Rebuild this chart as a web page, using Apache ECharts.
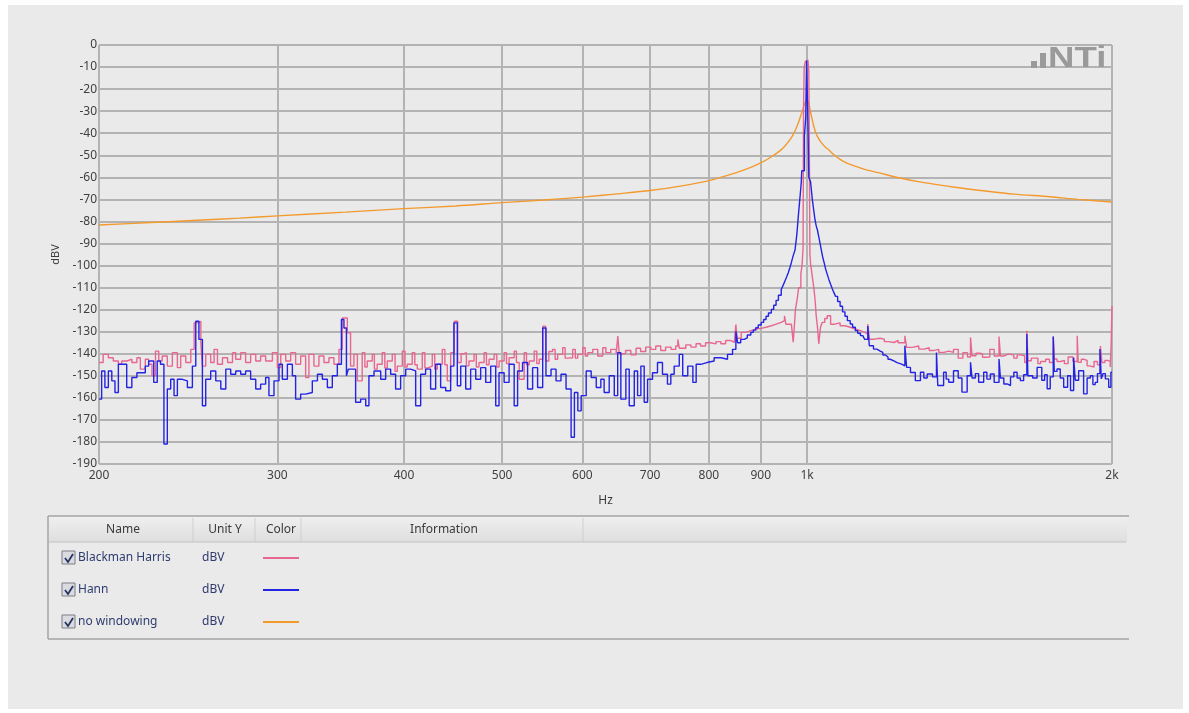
<!DOCTYPE html>
<html><head><meta charset="utf-8">
<script src="https://cdn.jsdelivr.net/npm/echarts@6/dist/echarts.min.js"></script>
<style>html,body{margin:0;padding:0;background:#fff}#c{width:1189px;height:713px}</style>
</head><body><div id="c"></div>
<script>
// ---- tick values ----
const xTicks = [200, 300, 400, 500, 600, 700, 800, 900, 1000, 2000];
const yMin = -190, yMax = 0, yStep = 10;

// ---- legend table ----
const seriesNames = ['Blackman Harris', 'Hann', 'no windowing'];
const seriesUnits = ['dBV', 'dBV', 'dBV'];
const tableHeaders = ['Name', 'Unit Y', 'Color', 'Information'];
const seriesColors = ['#e8678f', '#2323e3', '#f39a2e'];

// ---- data: [frequency Hz, level dBV] ----
const blackmanHarris = [
[200,-144],[201.9,-140.3],[204.3,-141.8],[206.6,-143.3],[209,-144.8],[210.6,-143.3],[213,-142.5],[215.5,-144],[218,-141.8],[219.7,-147],[222.2,-142.5],[223.9,-144.8],[225.6,-150],[227.4,-138.8],[229.1,-143.3],[230.9,-141],[233.6,-145.6],[236.3,-139.5],[239,-146.3],[240.8,-141],[243.6,-144],[246.4,-138],[248.3,-126],[250.2,-125.3],[252.1,-135],[253,-145.6],[254.9,-140.3],[257.8,-144],[259.8,-138],[261.8,-144.8],[264.8,-141.8],[267.9,-144],[270.9,-139.5],[272.9,-142.5],[276,-139.5],[279.1,-144],[282.3,-140.3],[285.6,-143.3],[288.8,-141],[292.1,-143.3],[296.6,-139.5],[300,-146.3],[302.3,-140.3],[305.7,-143.3],[309.2,-139.5],[312.7,-144.8],[316.3,-141],[319.9,-150.8],[322.3,-140.3],[326,-145.6],[329.7,-141],[333.5,-144],[337.3,-141.8],[341.2,-144.8],[345.1,-138],[347.7,-123.8],[351.7,-130.5],[354.3,-145.6],[357,-140.3],[359.8,-152.3],[363.8,-139.5],[366,-146],[368,-143.3],[372.2,-140.3],[374,-147],[376.4,-144.8],[380.7,-139.5],[383,-146.5],[385.1,-143.3],[389.5,-140.3],[392,-148],[394,-145.6],[398.5,-138.8],[401,-146],[403,-144.8],[407.6,-139.5],[410,-145],[412.3,-147],[417,-139.5],[419.5,-146.5],[421.8,-145.6],[426.6,-140.3],[429,-147],[431.5,-144.8],[436.4,-138],[439,-145],[441.4,-152.3],[444.8,-139.5],[448.5,-125.3],[452,-144],[455.5,-140],[458.5,-139.5],[461,-145.5],[463.7,-143.3],[469.1,-140.3],[471.5,-146],[474.4,-144],[479.9,-139.5],[482.5,-145],[485.4,-142.5],[491,-140.3],[494,-146],[496.6,-143.3],[502.3,-139.5],[505,-144.5],[508,-141.8],[513.9,-138.8],[516.5,-144],[519.8,-151.6],[525.7,-139.5],[528.5,-145],[531.8,-143.3],[537.8,-138.8],[541,-144.5],[544,-142.5],[548.5,-127.5],[552,-143.3],[556,-139],[560.8,-138],[564,-142.5],[567.3,-140.3],[573.8,-137.3],[577,-142],[580.4,-141.8],[587,-138],[590.5,-142],[593.7,-140.3],[600.5,-137.3],[604,-141],[607.4,-139.5],[614.4,-138],[621.4,-141],[628.5,-137.3],[633,-139.5],[640,-138],[648,-140],[650.4,-132],[652.5,-140],[662,-138.5],[670,-140.5],[678,-137.5],[685,-139],[693,-137],[701,-138],[709,-136.5],[717,-138.5],[725,-137],[734,-138],[742,-136.5],[745.5,-133.5],[748,-137.5],[759,-136],[768,-137],[777,-135.5],[785,-136.5],[794,-135],[803,-135.5],[813,-134.5],[822,-135.5],[831,-134],[841,-134.8],[848,-133.5],[850.6,-126.8],[853,-133],[861,-130.3],[870,-129.5],[880,-128.8],[890,-128.5],[901,-128],[911,-127.3],[922,-126.6],[932,-125.8],[943,-125],[950,-122.8],[953,-126.6],[965,-127.3],[969,-134.8],[972,-126],[974,-119.9],[978,-115],[981,-110.1],[986,-104],[989,-99],[991,-92],[992,-30],[993.5,-10],[996,-7.5],[999,-6.8],[1002,-7.5],[1004,-12],[1005,-40],[1006.5,-95],[1008,-99],[1012,-105],[1016,-110.9],[1019,-117],[1021,-122.8],[1024,-128],[1027,-135.5],[1031,-128],[1035,-125.8],[1041,-124],[1047,-122.8],[1055,-126.6],[1065,-126],[1078,-127.3],[1090,-128],[1103,-128.8],[1116,-129.5],[1129,-130.3],[1140,-131],[1148,-126.6],[1152,-133.4],[1165,-133],[1180,-133.4],[1192,-134.5],[1204,-134.9],[1218,-134],[1230,-135],[1249,-131.9],[1254,-137.1],[1270,-136.5],[1289,-137.9],[1305,-137.3],[1320,-138.5],[1335,-138],[1349,-139.4],[1365,-138.8],[1380,-139.4],[1395,-138],[1410,-142],[1425,-139.5],[1440,-141.5],[1450,-132.6],[1455,-140.9],[1468,-139.8],[1480,-140],[1490,-141.6],[1500,-141.5],[1515,-138],[1530,-141],[1547,-132.2],[1552,-141],[1565,-140.2],[1580,-140.5],[1600,-142],[1612,-140.5],[1625,-140.9],[1640,-144],[1648,-129.6],[1652,-143.2],[1665,-142],[1680,-142],[1690,-144.5],[1700,-143.5],[1720,-142.5],[1735,-144],[1750,-132.2],[1754,-142.4],[1765,-143.5],[1780,-143],[1795,-144.5],[1810,-141.5],[1830,-143.5],[1848,-131.9],[1852,-143.9],[1865,-142.5],[1875,-143],[1890,-145.5],[1900,-146],[1920,-143.5],[1935,-145],[1948,-136.5],[1955,-144],[1968,-143],[1980,-143.5],[1992,-146],[1996,-136.4],[2000,-118.3]
];

const hann = [
[200,-160.6],[201.2,-147.8],[202.7,-155.3],[204.3,-147.8],[205.9,-152.3],[207.4,-157.6],[209,-144.8],[213,-155.3],[215.5,-150.8],[218,-148.6],[222.2,-145.6],[223.9,-143.3],[226.5,-153],[228.3,-143.3],[230,-144.8],[231.8,-180.9],[233.6,-156],[235.4,-151.6],[237.2,-159],[239,-151.6],[241.7,-152.3],[244.5,-155.3],[247.3,-145.6],[249.2,-125.3],[251,-133.5],[253,-163.6],[254.9,-151.6],[257.8,-147.8],[260.8,-152.3],[263.8,-156],[266.8,-147],[269.8,-149.3],[272.9,-147.8],[276,-149.3],[279.1,-147.8],[282.3,-151.6],[285.6,-156],[288.8,-153.8],[292.1,-150.8],[294.3,-159],[297.7,-152.3],[301.1,-144.8],[303.4,-151.6],[306.9,-144.8],[310.4,-150],[312.7,-160.6],[316.3,-158.3],[319.9,-157.6],[324.8,-152.3],[328.6,-149.3],[332.3,-151.6],[336.1,-155.3],[339.9,-150],[343.8,-144.8],[347,-124.5],[349,-128.3],[351,-150],[352.5,-147],[358.4,-162],[362.5,-160.6],[366.7,-163.6],[369.4,-150],[373.7,-147.8],[379.4,-151.6],[383.7,-147],[388.1,-149.3],[392.5,-156],[397,-150],[401.6,-147],[406.1,-147.8],[410.8,-163.6],[415.5,-149.3],[420.2,-147],[425,-156],[429.9,-144.8],[434.8,-155.3],[439.8,-156.8],[444.8,-145.6],[448.1,-126],[451.6,-154.5],[455.1,-145.6],[460.3,-156],[465.5,-147],[470.9,-151.6],[476.2,-146.3],[481.7,-153],[487.2,-145.6],[492.8,-163.6],[496.5,-148.6],[502.3,-153],[508,-144.8],[513.9,-163.6],[517.9,-147.8],[523.8,-144],[529.8,-156],[535.9,-146.3],[542,-155.3],[548.3,-128.3],[552.4,-150],[558.8,-147],[565.2,-152.3],[571.6,-149.3],[578.2,-156],[584.9,-177.9],[589.3,-157.6],[593.9,-165.9],[598.4,-159],[605.3,-147.8],[612.2,-150.8],[619.3,-155.3],[625.8,-151.6],[630.5,-157.6],[637.8,-150],[645.2,-159],[650.2,-139.5],[654.9,-160.6],[662.4,-147],[667.5,-163.6],[675.2,-147.8],[680.3,-159],[685.4,-145.6],[690.6,-162],[695.9,-151.6],[703.8,-148.6],[711.8,-144],[719.9,-149.3],[728.1,-153.8],[733.7,-149.3],[739.3,-145.6],[747.9,-140.3],[753.8,-150],[762.5,-145.6],[771.4,-153],[777.2,-144.8],[785.4,-144],[796.4,-143.3],[809.6,-141.8],[822,-142.5],[834.6,-140.3],[844.2,-138],[850.6,-129.8],[853.9,-135],[860,-133.5],[866.9,-132.8],[873,-131.5],[880,-130.3],[885,-129.3],[890,-128.2],[895,-127],[901,-125.8],[906,-124.5],[911,-123],[916,-121.5],[922,-119.9],[927,-118],[932,-115.8],[937,-113.5],[943,-110.9],[947,-109],[951,-107],[955,-105],[958,-103.4],[962,-100.8],[965,-98.6],[969,-95.5],[973,-93],[975,-89.5],[977,-86],[979,-81],[981,-76],[983,-71.5],[985,-67],[987,-62],[988,-57],[994,-41],[997,-33],[999,-7],[1002,-36],[1004,-60],[1006,-61],[1008,-62],[1010,-66],[1012,-70],[1014,-73],[1016,-76],[1018,-79],[1021,-82],[1024,-84],[1027,-87],[1030,-90],[1033,-93],[1036,-96],[1040,-99],[1043,-101.5],[1047,-104],[1051,-106.4],[1055,-108.5],[1059,-110.5],[1063,-112.3],[1067,-114],[1072,-116.3],[1078,-118.5],[1084,-121],[1090,-123],[1096,-125],[1103,-126.5],[1109,-128],[1116,-129.5],[1122,-130.7],[1129,-131.8],[1135,-132.7],[1140,-133.5],[1148,-127.4],[1152,-136.4],[1163,-137.9],[1172,-138.8],[1181,-139.4],[1188,-140.6],[1195,-141.5],[1202,-142.5],[1208,-143.2],[1218,-144],[1227,-144.7],[1240,-145.5],[1249,-136.4],[1254,-146.2],[1265,-148.5],[1279,-152.2],[1294,-148.4],[1304,-151],[1314,-149.2],[1330,-150.5],[1342,-139.4],[1346,-154.4],[1364,-148.4],[1372,-151.5],[1380,-152.9],[1395,-147.7],[1410,-151],[1422,-157.4],[1439,-150],[1450,-143.9],[1455,-151],[1466,-149],[1477,-152.9],[1494,-148.4],[1505,-151.5],[1517,-149.2],[1530,-153],[1547,-142.4],[1552,-151],[1564,-153.7],[1576,-154.4],[1588,-150.5],[1600,-148.4],[1612,-151],[1624,-152.2],[1636,-149.5],[1648,-131.1],[1652,-150],[1670,-151],[1687,-146.2],[1705,-152],[1716,-149.5],[1726,-155.9],[1738,-150.5],[1750,-132.2],[1754,-148],[1765,-146.9],[1778,-151],[1792,-155.2],[1808,-150],[1820,-156.7],[1833,-141.7],[1840,-152],[1854,-147.7],[1875,-158.2],[1890,-151],[1904,-150],[1915,-154],[1925,-153],[1935,-149],[1946,-137.9],[1952,-151.4],[1960,-149],[1970,-151.4],[1985,-155.2],[1995,-148.4],[2000,-148.4]
];

const noWindowing = [
[200,-81.6],[225,-80.5],[250,-79.5],[275,-78.5],[300,-77.5],[350,-75.8],[400,-74.2],[450,-73],[500,-71.5],[550,-70.3],[600,-69],[650,-67.5],[700,-66],[750,-64],[800,-61.5],[850,-58],[880,-55.5],[900,-53.5],[920,-51],[940,-48],[950,-46],[960,-43.5],[968,-41],[975,-38],[980,-35.5],[985,-32.5],[990,-29.5],[994,-27],[997,-25.6],[1000,-24.8],[1002,-25.4],[1004,-26.5],[1008,-30.5],[1012,-34],[1016,-37.3],[1020,-39.8],[1026,-42.2],[1034,-44.5],[1042,-46.2],[1051,-47.6],[1063,-49.8],[1078,-51.9],[1095,-53.6],[1115,-54.9],[1140,-56.4],[1176,-57.9],[1235,-60.3],[1300,-62.3],[1400,-64.5],[1500,-66.2],[1600,-67.6],[1737,-68.8],[1850,-70],[2000,-71.2]
];

const FONT = "'Noto Sans', 'Open Sans', 'DejaVu Sans', sans-serif";
const GRID = { left: 99, top: 45, width: 1013, height: 419 };

// ---- legend table graphic ----
const tbl = { x: 48, y: 516, w: 1081, h: 123, headH: 26 };
const colSep = [193, 255, 301, 583];
const headCenters = [123, 225, 281, 444];
const rowY = [558, 590, 622];
const g = [];
g.push({ type: 'rect', z: -10, silent: true, shape: { x: 8, y: 5, width: 1175, height: 704 }, style: { fill: '#eaeaea' } });
g.push({ type: 'rect', z: 5, shape: { x: tbl.x + 1, y: tbl.y + 1, width: tbl.w - 3, height: tbl.headH - 1 },
  style: { fill: new echarts.graphic.LinearGradient(0, 0, 0, 1, [{ offset: 0, color: '#efefef' }, { offset: 1, color: '#dedede' }]) } });
g.push({ type: 'line', z: 6, shape: { x1: tbl.x, y1: tbl.y, x2: tbl.x + tbl.w, y2: tbl.y }, style: { stroke: '#a5a5a5', lineWidth: 1.5 } });
g.push({ type: 'line', z: 6, shape: { x1: tbl.x, y1: tbl.y + tbl.h, x2: tbl.x + tbl.w, y2: tbl.y + tbl.h }, style: { stroke: '#a5a5a5', lineWidth: 1.5 } });
g.push({ type: 'line', z: 6, shape: { x1: tbl.x, y1: tbl.y, x2: tbl.x, y2: tbl.y + tbl.h }, style: { stroke: '#a5a5a5', lineWidth: 1.5 } });
g.push({ type: 'line', z: 6, shape: { x1: tbl.x + 1, y1: tbl.y + tbl.headH, x2: tbl.x + tbl.w - 3, y2: tbl.y + tbl.headH }, style: { stroke: '#c2c2c2', lineWidth: 1 } });
colSep.forEach(x => g.push({ type: 'line', z: 6, shape: { x1: x, y1: tbl.y + 2, x2: x, y2: tbl.y + tbl.headH - 1 }, style: { stroke: '#cfcfcf', lineWidth: 1 } }));
tableHeaders.forEach((t, i) => g.push({ type: 'text', z: 7, style: { text: t, x: headCenters[i], y: tbl.y + tbl.headH / 2 + 1, align: 'center', verticalAlign: 'middle', font: '12px ' + FONT, fill: '#3a3a3a' } }));
seriesNames.forEach((name, i) => {
  const y = rowY[i];
  g.push({ type: 'rect', z: 7, shape: { x: 62, y: y - 7, width: 13, height: 13 }, style: { fill: '#d9dbe0', stroke: '#7d7f86', lineWidth: 1 } });
  g.push({ type: 'polyline', z: 8, shape: { points: [[65, y], [68, y + 4], [73, y - 4]] }, style: { stroke: '#26335f', lineWidth: 1.8, fill: null } });
  g.push({ type: 'text', z: 7, style: { text: name, x: 78, y: y, align: 'left', verticalAlign: 'middle', font: '12px ' + FONT, fill: '#2e3c6e' } });
  g.push({ type: 'text', z: 7, style: { text: seriesUnits[i], x: 202, y: y, align: 'left', verticalAlign: 'middle', font: '12px ' + FONT, fill: '#2e3c6e' } });
  g.push({ type: 'line', z: 7, shape: { x1: 263, y1: y, x2: 299, y2: y }, style: { stroke: seriesColors[i], lineWidth: 2 } });
});
// NTi logo
g.push({ type: 'rect', z: 7, shape: { x: 1031, y: 61, width: 6, height: 7 }, style: { fill: '#9a9a9a' } });
g.push({ type: 'rect', z: 7, shape: { x: 1040, y: 53, width: 6, height: 15 }, style: { fill: '#9a9a9a' } });
g.push({ type: 'text', z: 7, x: 1048, y: 74, scaleX: 1.22, scaleY: 1,
  style: { text: 'NTi', x: 0, y: 0, align: 'left', verticalAlign: 'bottom', font: 'bold 30px "Liberation Sans", Arial, sans-serif', fill: '#9a9a9a' } });

const chart = echarts.init(document.getElementById('c'), null, { renderer: 'canvas' });
const lineSeries = (name, data, color, z, step, smooth) => ({
  name, type: 'line', data, step: step ? 'end' : false, smooth: smooth || false, showSymbol: false, symbol: 'none', z,
  lineStyle: { color, width: 1.4 }, itemStyle: { color }, animation: false, silent: true
});
chart.setOption({
  backgroundColor: '#ffffff',
  animation: false,
  grid: { left: GRID.left, top: GRID.top, width: GRID.width, height: GRID.height, containLabel: false },
  xAxis: {
    type: 'log', logBase: 10, min: 200, max: 2000,
    name: 'Hz', nameLocation: 'middle', nameGap: 31,
    nameTextStyle: { fontFamily: FONT, fontSize: 12, color: '#3a3a3a' },
    axisLine: { show: false }, axisTick: { show: false, customValues: xTicks },
    axisLabel: { customValues: xTicks, margin: 6, fontFamily: FONT, fontSize: 12, color: '#404040',
      formatter: v => v >= 1000 ? (v / 1000) + 'k' : String(v) },
    splitLine: { show: true, lineStyle: { color: '#b3b3b3', width: 2 } }, minorSplitLine: { show: false }
  },
  yAxis: {
    type: 'value', min: yMin, max: yMax, interval: yStep,
    name: 'dBV', nameLocation: 'middle', nameGap: 38, nameRotate: 90,
    nameTextStyle: { fontFamily: FONT, fontSize: 11, color: '#3a3a3a' },
    axisLine: { show: false }, axisTick: { show: false },
    axisLabel: { margin: 2, fontFamily: FONT, fontSize: 12, color: '#404040' },
    splitLine: { show: true, lineStyle: { color: '#b3b3b3', width: 2 } }
  },
  graphic: { elements: g },
  series: [
    lineSeries(seriesNames[2], noWindowing, seriesColors[2], 2, false, 0.3),
    lineSeries(seriesNames[0], blackmanHarris, seriesColors[0], 3, true),
    lineSeries(seriesNames[1], hann, seriesColors[1], 4, true)
  ]
});
</script></body></html>
